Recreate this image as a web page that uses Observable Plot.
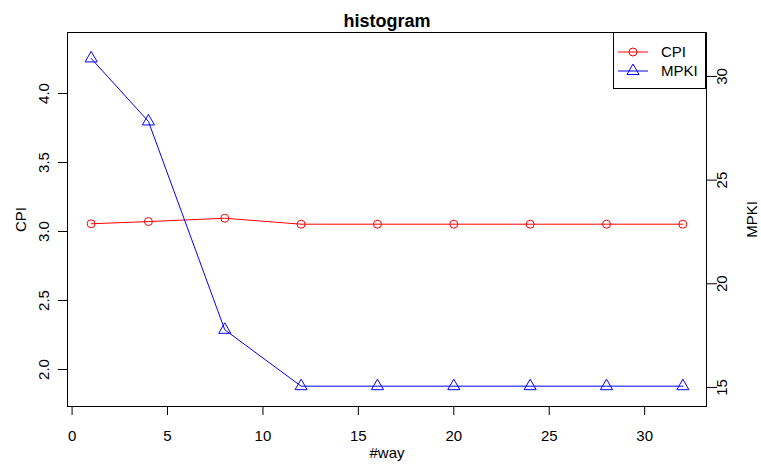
<!DOCTYPE html>
<html>
<head>
<meta charset="utf-8">
<script src="https://cdn.jsdelivr.net/npm/d3@7"></script>
<script src="https://cdn.jsdelivr.net/npm/@observablehq/plot@0.6"></script>
<style>
  html, body { margin: 0; padding: 0; background: white; }
  #wrap { position: relative; width: 761px; height: 468px; }
  #legend { position: absolute; left: 613px; top: 32px; width: 93px; height: 57px;
    border: 1px solid black; background: white; box-sizing: border-box;
    font-family: "Liberation Sans", Arial, sans-serif; font-size: 15px; }
  #legend svg { position: absolute; left: 0; top: 0; }
</style>
</head>
<body>
<div id="wrap"></div>
<script>
const title = "histogram";
const ways = [1, 4, 8, 12, 16, 20, 24, 28, 32];
const cpi = [3.056, 3.072, 3.096, 3.053, 3.053, 3.053, 3.053, 3.053, 3.053];
const mpki = [30.87, 27.83, 17.78, 15.06, 15.06, 15.06, 15.06, 15.06, 15.06];
const xTicks = [0, 5, 10, 15, 20, 25, 30];
const cpiTicks = [2.0, 2.5, 3.0, 3.5, 4.0];
const mpkiTicks = [15, 20, 25, 30];
const seriesNames = ["CPI", "MPKI"];
const seriesColors = ["#ff0000", "#0000ff"];

const xDomain = [-0.24, 33.24];
const cpiDomain = [1.732, 4.442];
const mpkiDomain = [14.08, 32.12];

// map MPKI onto the CPI (left) scale
const toLeft = d3.scaleLinear().domain(mpkiDomain).range(cpiDomain);

const cpiData = ways.map((w, i) => ({way: w, v: cpi[i]}));
const mpkiData = ways.map((w, i) => ({way: w, v: toLeft(mpki[i])}));

const font = "Liberation Sans, Arial, sans-serif";

const chart = Plot.plot({
  width: 761,
  height: 468,
  marginLeft: 67,
  marginRight: 55,
  marginTop: 32,
  marginBottom: 62,
  style: {fontFamily: font, fontSize: "15px", background: "white", color: "black"},
  x: {domain: xDomain},
  y: {domain: cpiDomain},
  marks: [
    Plot.axisX({ticks: xTicks, tickSize: 9, tickPadding: 15, label: "#way", labelAnchor: "center", labelArrow: "none", labelOffset: 51, fontSize: 15}),
    Plot.axisY({ticks: cpiTicks, tickFormat: d3.format(".1f"), tickSize: 9, tickPadding: 10, tickRotate: -90, label: "CPI", labelAnchor: "center", labelArrow: "none", labelOffset: 52, fontSize: 15}),
    Plot.axisY({anchor: "right", ticks: mpkiTicks.map(toLeft), tickFormat: v => String(Math.round(toLeft.invert(v))), tickSize: 10, tickPadding: 10, tickRotate: -90, label: "MPKI", labelAnchor: "center", labelArrow: "none", labelOffset: 50, fontSize: 15}),
    Plot.frame({stroke: "black", strokeWidth: 1}),
    Plot.line(cpiData, {x: "way", y: "v", stroke: seriesColors[0], strokeWidth: 1}),
    Plot.dot(cpiData, {x: "way", y: "v", stroke: seriesColors[0], fill: "none", r: 4, strokeWidth: 1}),
    Plot.line(mpkiData, {x: "way", y: "v", stroke: seriesColors[1], strokeWidth: 1}),
    Plot.dot(mpkiData, {x: "way", y: "v", stroke: seriesColors[1], fill: "none", symbol: "triangle", r: 4.5, strokeWidth: 1}),
    Plot.text([title], {frameAnchor: "top", dy: -18, text: d => d, fontWeight: "bold", fontSize: 18, fill: "black"})
  ]
});
const wrap = document.getElementById("wrap");
wrap.appendChild(chart);

// legend
const leg = document.createElement("div");
leg.id = "legend";
wrap.appendChild(leg);
const lsvg = d3.select(leg).append("svg").attr("width", 93).attr("height", 57);
seriesNames.forEach((name, i) => {
  const y = 19 + i * 19;
  const g = lsvg.append("g").attr("transform", `translate(0,${y})`);
  g.append("line").attr("x1", 4).attr("x2", 34).attr("y1", 0).attr("y2", 0)
    .attr("stroke", seriesColors[i]).attr("stroke-width", 1);
  if (i === 0) {
    g.append("circle").attr("cx", 19).attr("cy", 0).attr("r", 4)
      .attr("fill", "none").attr("stroke", seriesColors[i]);
  } else {
    g.append("path").attr("d", d3.symbol(d3.symbolTriangle, 63)())
      .attr("transform", "translate(19,0)")
      .attr("fill", "none").attr("stroke", seriesColors[i]);
  }
  g.append("text").attr("x", 47).attr("y", 0).attr("dy", "0.35em")
    .attr("font-family", font).attr("font-size", 15).attr("fill", "black").text(name);
});
</script>
</body>
</html>
